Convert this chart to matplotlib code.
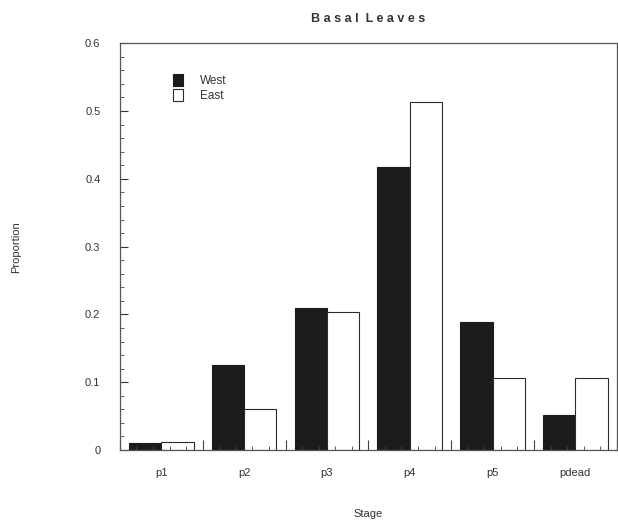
import matplotlib.pyplot as plt
import numpy as np
from matplotlib.ticker import MultipleLocator, FuncFormatter

plt.rcParams['font.family'] = ['Liberation Sans', 'DejaVu Sans']

# data
stages = ['p1', 'p2', 'p3', 'p4', 'p5', 'pdead']
west = [0.010, 0.126, 0.209, 0.418, 0.189, 0.052]
east = [0.012, 0.060, 0.204, 0.513, 0.106, 0.106]

fig = plt.figure(figsize=(6.18, 5.27), dpi=100)
ax = fig.add_axes([0.194, 0.146, 0.804, 0.772])

x = np.arange(len(stages))
w = 0.39
ax.bar(x - w / 2, west, w, color='#1c1c1c', edgecolor='#1c1c1c', linewidth=0.8, label='West')
ax.bar(x + w / 2, east, w, color='white', edgecolor='#2a2a2a', linewidth=0.8, label='East')

ax.set_xlim(-0.5, len(stages) - 0.5)
ax.set_ylim(0, 0.6)

# y axis: major every 0.1, minor every 0.02, all inward
ax.yaxis.set_major_locator(MultipleLocator(0.1))
ax.yaxis.set_minor_locator(MultipleLocator(0.02))
ax.yaxis.set_major_formatter(FuncFormatter(lambda v, p: '0' if abs(v) < 1e-9 else '%.1f' % v))
ax.tick_params(axis='y', which='major', direction='in', length=6, width=0.8,
               pad=14, labelsize=8, colors='#333333')
ax.tick_params(axis='y', which='minor', direction='in', length=3, width=0.6, colors='#444444')

# x axis: labels at group centres, small ticks every 0.2, taller ticks at group edges
ax.set_xticks(x)
ax.set_xticklabels(stages)
ax.set_xticks(np.arange(-0.5, len(stages) - 0.4, 0.2), minor=True)
ax.tick_params(axis='x', which='major', length=0, pad=13, labelsize=8, colors='#333333')
ax.tick_params(axis='x', which='minor', direction='in', length=3, width=0.6, colors='#444444')
ax.tick_params(top=False, right=False, which='both')
sec = ax.secondary_xaxis('bottom')
sec.set_xticks(np.arange(-0.5, len(stages), 1.0))
sec.set_xticklabels([])
sec.tick_params(direction='in', length=7, width=0.8, colors='#444444')
sec.spines['bottom'].set_visible(False)

for s in ax.spines.values():
    s.set_color('#555555')
    s.set_linewidth(0.9)

ax.set_title('B a s a l  L e a v e s', fontsize=9, fontweight='bold', color='#333333', pad=15)
ax.set_xlabel('Stage', fontsize=8, color='#333333', labelpad=22)
ax.set_ylabel('Proportion', fontsize=8, color='#333333', labelpad=46)

ax.legend(loc='upper left', bbox_to_anchor=(0.085, 0.95), frameon=False, fontsize=8.5,
          handlelength=0.9, handleheight=1.2, labelspacing=0.15, handletextpad=1.4,
          labelcolor='#333333')

fig.savefig('out.png', dpi=100)
